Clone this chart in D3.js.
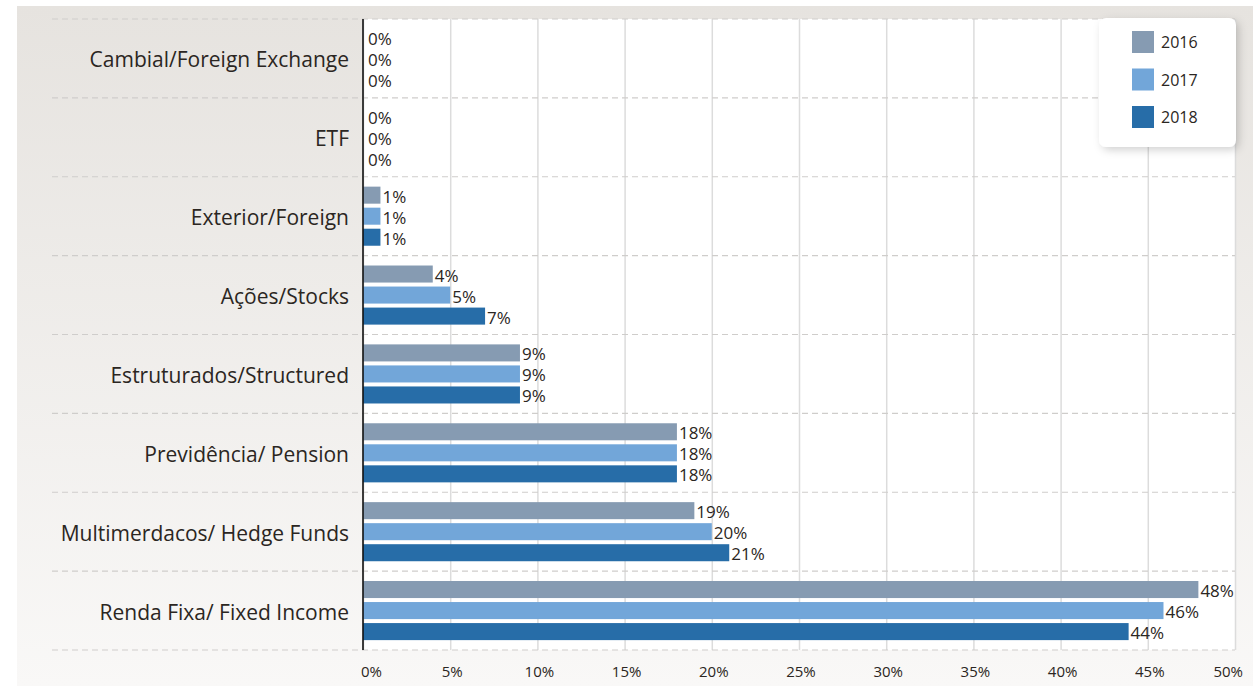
<!DOCTYPE html>
<html>
<head>
<meta charset="utf-8">
<script src="https://cdn.jsdelivr.net/npm/d3@7"></script>
<style>
  body { margin: 0; background: #fff; }
  svg { display: block; font-family: "Open Sans", sans-serif; }
</style>
</head>
<body>
<div id="chart"></div>
<script>
// dữ liệu
const categories = [
    "Cambial/Foreign Exchange",
    "ETF",
    "Exterior/Foreign",
    "Ações/Stocks",
    "Estruturados/Structured",
    "Previdência/ Pension",
    "Multimerdacos/ Hedge Funds",
    "Renda Fixa/ Fixed Income"
];
const years = ["2016", "2017", "2018"];
const values2016 = [0, 0, 1, 4, 9, 18, 19, 47.9];
const values2017 = [0, 0, 1, 5, 9, 18, 20, 45.9];
const values2018 = [0, 0, 1, 7, 9, 18, 21, 43.9];
const xTicks = [0, 5, 10, 15, 20, 25, 30, 35, 40, 45, 50];
const colors = ["#869bb2", "#72a6d9", "#276da8"];

function drawChart() {
    d3.select("#chart").selectAll("*").remove();

    let width = 1253, height = 686;
    let plot = { left: 363, right: 1235, top: 19, bottom: 650 };
    let textColor = "#2b2622";

    let svg = d3.select("#chart")
        .append("svg")
        .attr("width", width)
        .attr("height", height);

    let defs = svg.append("defs");
    let grad = defs.append("linearGradient")
        .attr("id", "bg").attr("x1", 0).attr("y1", 0).attr("x2", 0).attr("y2", 1);
    grad.append("stop").attr("offset", "0%").attr("stop-color", "#e6e3df");
    grad.append("stop").attr("offset", "100%").attr("stop-color", "#f9f8f7");

    let shadow = defs.append("filter").attr("id", "shadow")
        .attr("x", "-20%").attr("y", "-20%").attr("width", "150%").attr("height", "150%");
    shadow.append("feDropShadow")
        .attr("dx", 3).attr("dy", 3).attr("stdDeviation", 4)
        .attr("flood-color", "#000").attr("flood-opacity", 0.18);

    // nền xám
    svg.append("rect")
        .attr("x", 17).attr("y", 6)
        .attr("width", width - 17).attr("height", height - 6)
        .attr("fill", "url(#bg)");

    // vùng vẽ trắng
    svg.append("rect")
        .attr("x", plot.left).attr("y", plot.top)
        .attr("width", plot.right - plot.left).attr("height", plot.bottom - plot.top)
        .attr("fill", "#fff");

    let data = categories.map((c, i) => ({
        category: c,
        values: [values2016[i], values2017[i], values2018[i]]
    }));

    let xScale = d3.scaleLinear()
        .domain([0, 50])
        .range([plot.left, plot.right]);

    let yScale = d3.scaleBand()
        .domain(categories)
        .range([plot.top, plot.bottom])
        .padding(0);

    let yInner = d3.scaleBand()
        .domain(years)
        .range([0, yScale.bandwidth()])
        .paddingInner(0.19)
        .paddingOuter(0.47);

    // lưới dọc
    svg.append("g")
        .attr("transform", `translate(0,${plot.bottom})`)
        .call(d3.axisBottom(xScale).tickValues(xTicks).tickSize(-(plot.bottom - plot.top)).tickFormat(""))
        .call(g => g.select(".domain").remove())
        .selectAll("line")
        .attr("stroke", "#dcdcdc")
        .attr("stroke-width", 1.5);

    // đường kẻ ngang nét đứt
    let boundaries = categories.map(c => yScale(c)).concat([plot.bottom]);
    svg.selectAll(".hline")
        .data(boundaries)
        .enter().append("line")
        .attr("x1", 52).attr("x2", plot.right)
        .attr("y1", d => d).attr("y2", d => d)
        .attr("stroke", "#cfcdcb")
        .attr("stroke-width", 1.2)
        .attr("stroke-dasharray", "6,4");

    // cột
    let groups = svg.selectAll(".grp")
        .data(data)
        .enter().append("g")
        .attr("transform", d => `translate(0,${yScale(d.category)})`);

    groups.selectAll("rect")
        .data(d => d.values.map((v, i) => ({ year: years[i], value: v, idx: i })))
        .enter().append("rect")
        .attr("x", xScale(0))
        .attr("y", d => yInner(d.year))
        .attr("width", d => xScale(d.value) - xScale(0))
        .attr("height", yInner.bandwidth())
        .attr("fill", d => colors[d.idx]);

    groups.selectAll("text")
        .data(d => d.values.map((v, i) => ({ year: years[i], value: v })))
        .enter().append("text")
        .attr("x", d => xScale(d.value) + (d.value === 0 ? 5 : 2))
        .attr("y", d => yInner(d.year) + yInner.bandwidth() / 2 + 1)
        .attr("dominant-baseline", "central")
        .style("font-size", "17px")
        .style("fill", textColor)
        .text(d => `${Math.round(d.value)}%`);

    // trục y
    svg.append("line")
        .attr("x1", plot.left).attr("x2", plot.left)
        .attr("y1", plot.top).attr("y2", plot.bottom)
        .attr("stroke", "#111")
        .attr("stroke-width", 1.6);

    svg.selectAll(".cat")
        .data(categories)
        .enter().append("text")
        .attr("x", 349)
        .attr("y", d => yScale(d) + yScale.bandwidth() / 2 + 1)
        .attr("text-anchor", "end")
        .attr("dominant-baseline", "central")
        .style("font-size", "21px")
        .style("fill", textColor)
        .text(d => d);

    // nhãn trục x
    svg.selectAll(".xt")
        .data(xTicks)
        .enter().append("text")
        .attr("x", (d, i) => xScale(d) + (i === 0 ? -2 : i === xTicks.length - 1 ? 8 : 2))
        .attr("y", 671)
        .attr("text-anchor", (d, i) => i === 0 ? "start" : i === xTicks.length - 1 ? "end" : "middle")
        .attr("dominant-baseline", "central")
        .style("font-size", "15px")
        .style("fill", textColor)
        .text(d => `${d}%`);

    // chú giải
    let legend = svg.append("g");
    legend.append("rect")
        .attr("x", 1099).attr("y", 18)
        .attr("width", 137).attr("height", 129)
        .attr("rx", 7)
        .attr("fill", "#fff")
        .attr("filter", "url(#shadow)");

    let items = legend.selectAll(".item")
        .data(years)
        .enter().append("g")
        .attr("transform", (d, i) => `translate(1132,${31 + i * 37.5})`);

    items.append("rect")
        .attr("width", 22).attr("height", 22)
        .attr("fill", (d, i) => colors[i]);

    items.append("text")
        .attr("x", 29).attr("y", 11)
        .attr("dominant-baseline", "central")
        .style("font-size", "16px")
        .style("fill", textColor)
        .text(d => d);
}

drawChart();
</script>
</body>
</html>
